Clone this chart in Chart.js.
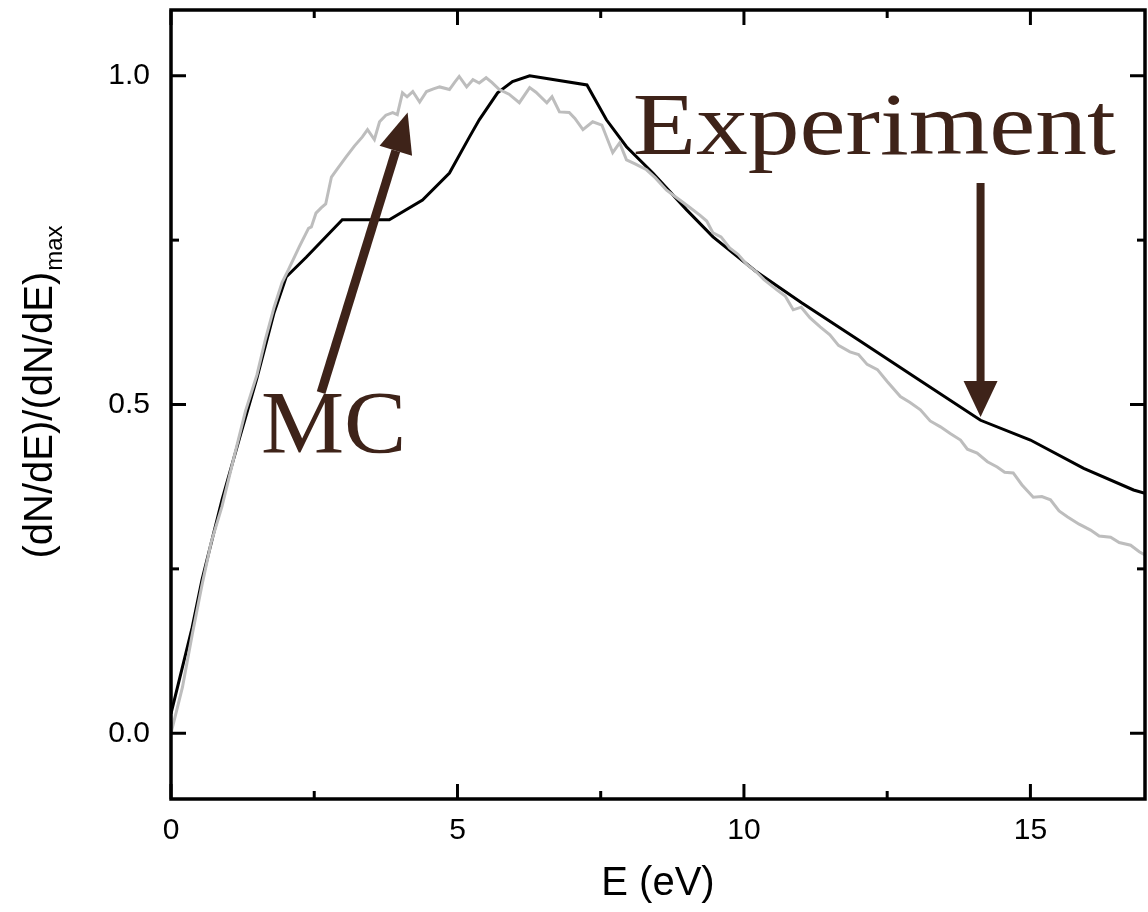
<!DOCTYPE html>
<html>
<head>
<meta charset="utf-8">
<script src="https://cdn.jsdelivr.net/npm/chart.js@4.4.1/dist/chart.umd.min.js"></script>
<style>
  html, body { margin: 0; padding: 0; background: #fff; }
  #wrap { width: 1148px; height: 912px; }
</style>
</head>
<body>
<div id="wrap"><canvas id="spectrumChart"></canvas></div>
<script>
// MC (grey) secondary electron spectrum
const mcEnergy = [0, 0.2, 0.37, 0.54, 0.7, 0.89, 1.1, 1.3, 1.5, 1.65, 1.8, 1.94, 2.05, 2.24, 2.4, 2.45, 2.53, 2.62, 2.7, 2.8, 2.9, 3.06, 3.2, 3.34, 3.43, 3.55, 3.64, 3.75, 3.87, 3.95, 4.04, 4.12, 4.22, 4.34, 4.46, 4.58, 4.69, 4.86, 4.95, 5.03, 5.16, 5.27, 5.38, 5.5, 5.6, 5.73, 5.9, 6.08, 6.26, 6.37, 6.56, 6.65, 6.78, 6.95, 7.05, 7.19, 7.36, 7.52, 7.71, 7.83, 7.95, 8.1, 8.3, 8.45, 8.65, 8.88, 9.05, 9.23, 9.35, 9.46, 9.6, 9.75, 9.9, 10.05, 10.2, 10.35, 10.58, 10.72, 10.86, 11.0, 11.15, 11.33, 11.5, 11.65, 11.85, 12.0, 12.15, 12.33, 12.5, 12.73, 12.9, 13.08, 13.25, 13.43, 13.6, 13.78, 13.9, 14.07, 14.25, 14.42, 14.55, 14.7, 14.85, 15.05, 15.2, 15.35, 15.5, 15.65, 15.85, 16.05, 16.2, 16.4, 16.55, 16.75, 16.9, 17.0];
const mcYield = [0, 0.07, 0.15, 0.225, 0.29, 0.345, 0.42, 0.49, 0.545, 0.6, 0.648, 0.686, 0.705, 0.74, 0.768, 0.77, 0.791, 0.799, 0.805, 0.846, 0.858, 0.877, 0.893, 0.907, 0.918, 0.903, 0.93, 0.94, 0.944, 0.941, 0.974, 0.968, 0.976, 0.96, 0.976, 0.98, 0.983, 0.979, 0.99, 0.999, 0.983, 0.994, 0.989, 0.997, 0.99, 0.979, 0.972, 0.959, 0.982, 0.975, 0.959, 0.968, 0.945, 0.944, 0.935, 0.918, 0.93, 0.925, 0.883, 0.898, 0.872, 0.866, 0.857, 0.845, 0.826, 0.811, 0.8, 0.788, 0.779, 0.761, 0.755, 0.738, 0.728, 0.713, 0.703, 0.69, 0.674, 0.665, 0.644, 0.648, 0.632, 0.618, 0.606, 0.59, 0.58, 0.576, 0.561, 0.553, 0.535, 0.512, 0.503, 0.492, 0.475, 0.466, 0.456, 0.446, 0.432, 0.426, 0.413, 0.405, 0.397, 0.396, 0.378, 0.359, 0.36, 0.355, 0.338, 0.329, 0.318, 0.309, 0.3, 0.298, 0.29, 0.286, 0.276, 0.271];

// Experiment (black)
const expEnergy = [0, 0.37, 0.54, 0.89, 1.2, 1.5, 1.8, 2.01, 2.36, 2.99, 3.81, 4.39, 4.86, 5.21, 5.38, 5.7, 5.96, 6.26, 7.26, 7.6, 7.95, 8.41, 9.0, 9.46, 10.2, 11.0, 12.0, 13.1, 14.13, 15.0, 15.93, 16.8, 17.0];
const expYield = [0.03, 0.161, 0.233, 0.355, 0.45, 0.54, 0.64, 0.694, 0.724, 0.781, 0.781, 0.811, 0.852, 0.907, 0.933, 0.974, 0.991, 1.0, 0.986, 0.933, 0.892, 0.852, 0.796, 0.755, 0.703, 0.655, 0.598, 0.535, 0.476, 0.446, 0.403, 0.37, 0.365];

const xTicks = [0, 5, 10, 15];
const xMinorTicks = [2.5, 7.5, 12.5];
const yTicks = [0, 0.5, 1.0];
const yMinorTicks = [0.25, 0.75];

const noteColor = "#3e2319";

function toPoints(xs, ys) {
  return xs.map((e, i) => ({ x: e, y: ys[i] }));
}

function line(ctx, x1, y1, x2, y2) {
  ctx.beginPath();
  ctx.moveTo(x1, y1);
  ctx.lineTo(x2, y2);
  ctx.stroke();
}

function drawArrow(ctx, x1, y1, x2, y2, shaft, headLen, headHalf) {
  const ang = Math.atan2(y2 - y1, x2 - x1);
  const bx = x2 - headLen * Math.cos(ang);
  const by = y2 - headLen * Math.sin(ang);
  ctx.lineWidth = shaft;
  ctx.lineCap = "butt";
  line(ctx, x1, y1, bx, by);
  ctx.beginPath();
  ctx.moveTo(x2, y2);
  ctx.lineTo(bx + headHalf * Math.sin(ang), by - headHalf * Math.cos(ang));
  ctx.lineTo(bx - headHalf * Math.sin(ang), by + headHalf * Math.cos(ang));
  ctx.closePath();
  ctx.fill();
}

function drawNote(ctx, text, left, right, baseline, size) {
  ctx.save();
  ctx.font = size + "px 'Liberation Serif', serif";
  const w = ctx.measureText(text).width;
  ctx.translate(left, baseline);
  ctx.scale((right - left) / w, 1);
  ctx.textAlign = "left";
  ctx.textBaseline = "alphabetic";
  ctx.fillText(text, 0, 0);
  ctx.restore();
}

const framePlugin = {
  id: "frameAndNotes",
  afterDatasetsDraw(chart) {
    const { ctx, chartArea: a, scales: { x, y } } = chart;
    ctx.save();
    ctx.strokeStyle = "#000";
    ctx.lineWidth = 3.5;
    ctx.strokeRect(a.left, a.top, a.right - a.left, a.bottom - a.top);

    ctx.lineWidth = 3;
    xTicks.concat(xMinorTicks).forEach(v => {
      const len = xTicks.includes(v) ? 15 : 8;
      const px = x.getPixelForValue(v);
      line(ctx, px, a.bottom, px, a.bottom - len);
      line(ctx, px, a.top, px, a.top + len);
    });
    yTicks.concat(yMinorTicks).forEach(v => {
      const len = yTicks.includes(v) ? 15 : 8;
      const py = y.getPixelForValue(v);
      line(ctx, a.left, py, a.left + len, py);
      line(ctx, a.right, py, a.right - len, py);
    });

    // annotations
    ctx.fillStyle = noteColor;
    ctx.strokeStyle = noteColor;
    drawArrow(ctx, x.getPixelForValue(2.62), y.getPixelForValue(0.518),
      x.getPixelForValue(4.13), y.getPixelForValue(0.944), 9, 40, 17);
    drawArrow(ctx, x.getPixelForValue(14.13), y.getPixelForValue(0.837),
      x.getPixelForValue(14.13), y.getPixelForValue(0.481), 8, 36, 17);

    drawNote(ctx, "Experiment", x.getPixelForValue(8.06), x.getPixelForValue(16.49), y.getPixelForValue(0.881), 88);
    drawNote(ctx, "MC", x.getPixelForValue(1.57), x.getPixelForValue(4.11), y.getPixelForValue(0.428), 88);

    // y axis title with subscript
    ctx.fillStyle = "#000";
    ctx.translate(52, (a.top + a.bottom) / 2 - 12);
    ctx.rotate(-Math.PI / 2);
    const mainText = "(dN/dE)/(dN/dE)";
    ctx.font = "40px 'Liberation Sans', Arial, sans-serif";
    const mw = ctx.measureText(mainText).width;
    ctx.font = "24px 'Liberation Sans', Arial, sans-serif";
    const sw = ctx.measureText("max").width;
    const start = -(mw + sw) / 2;
    ctx.textBaseline = "alphabetic";
    ctx.textAlign = "left";
    ctx.font = "40px 'Liberation Sans', Arial, sans-serif";
    ctx.fillText(mainText, start, 0);
    ctx.font = "24px 'Liberation Sans', Arial, sans-serif";
    ctx.fillText("max", start + mw + 1, 10);
    ctx.restore();
  }
};

new Chart(document.getElementById("spectrumChart"), {
  type: "line",
  data: {
    datasets: [
      {
        label: "MC",
        data: toPoints(mcEnergy, mcYield),
        borderColor: "#bdbdbd",
        borderWidth: 3,
        pointRadius: 0,
        tension: 0,
        order: 0
      },
      {
        label: "Experiment",
        data: toPoints(expEnergy, expYield),
        borderColor: "#000000",
        borderWidth: 3,
        pointRadius: 0,
        tension: 0,
        order: 1
      }
    ]
  },
  options: {
    responsive: true,
    maintainAspectRatio: false,
    animation: false,
    layout: { padding: { top: 10, right: 3, bottom: 0, left: 0 } },
    plugins: {
      legend: { display: false },
      tooltip: { enabled: false }
    },
    scales: {
      x: {
        type: "linear",
        min: 0,
        max: 17,
        grid: { display: false, drawTicks: false },
        border: { display: false },
        afterBuildTicks: s => { s.ticks = xTicks.map(v => ({ value: v })); },
        afterFit: s => { s.height = 113; s.paddingLeft = 0; s.paddingRight = 0; },
        ticks: {
          color: "#000",
          padding: 14,
          maxRotation: 0,
          font: { family: "'Liberation Sans', Arial, sans-serif", size: 30 }
        },
        title: {
          display: true,
          text: "E (eV)",
          color: "#000",
          padding: { top: 0, bottom: 4 },
          font: { family: "'Liberation Sans', Arial, sans-serif", size: 40 }
        }
      },
      y: {
        type: "linear",
        min: -0.1,
        max: 1.1,
        grid: { display: false, drawTicks: false },
        border: { display: false },
        afterBuildTicks: s => { s.ticks = yTicks.map(v => ({ value: v })); },
        afterFit: s => { s.width = 171; s.paddingTop = 0; s.paddingBottom = 0; },
        ticks: {
          color: "#000",
          padding: 21,
          callback: v => Number(v).toFixed(1),
          font: { family: "'Liberation Sans', Arial, sans-serif", size: 30 }
        }
      }
    }
  },
  plugins: [framePlugin]
});
</script>
</body>
</html>
